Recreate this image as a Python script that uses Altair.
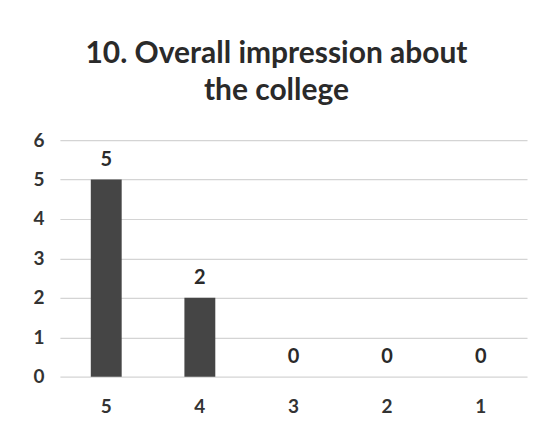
import altair as alt
import pandas as pd

categories = ["5", "4", "3", "2", "1"]
counts = [5, 2, 0, 0, 0]

df = pd.DataFrame({"rating": categories, "count": counts})

base = alt.Chart(df).encode(
    x=alt.X("rating:N", sort=categories, title=None,
            scale=alt.Scale(paddingInner=0.67, paddingOuter=0.33),
            axis=alt.Axis(labelAngle=0, labelFontSize=19, labelFontWeight="bold",
                          labelColor="#333333", labelPadding=21, ticks=False,
                          domain=False, grid=False, labelFont="Lato")),
    y=alt.Y("count:Q", title=None,
            scale=alt.Scale(domain=[0, 6], nice=False),
            axis=alt.Axis(values=[0, 1, 2, 3, 4, 5, 6], labelFontSize=19,
                          labelFontWeight="bold", labelColor="#333333",
                          labelPadding=16, ticks=False, domain=False,
                          gridColor="#d4d4d4", gridWidth=1.2, labelFont="Lato")),
)

bars = base.mark_bar(color="#454545")
labels = base.mark_text(baseline="bottom", dy=-10, fontSize=20, fontWeight="bold",
                        color="#2a2a2a", font="Lato").encode(text="count:Q")

chart = (bars + labels).properties(
    width=468,
    height=237,
    background="white",
    title=alt.TitleParams(
        ["10. Overall impression about", "the college"],
        fontSize=30, fontWeight="bold", font="Lato", color="#2a2a2a",
        anchor="middle", offset=25, lineHeight=37, dx=-17,
    ),
    autosize=alt.AutoSizeParams(type="none"),
    padding={"left": 52, "top": 132, "right": 10, "bottom": 60},
).configure_view(stroke=None, strokeWidth=0)

chart.save("out.html", embed_options={"renderer": "svg", "actions": False})
